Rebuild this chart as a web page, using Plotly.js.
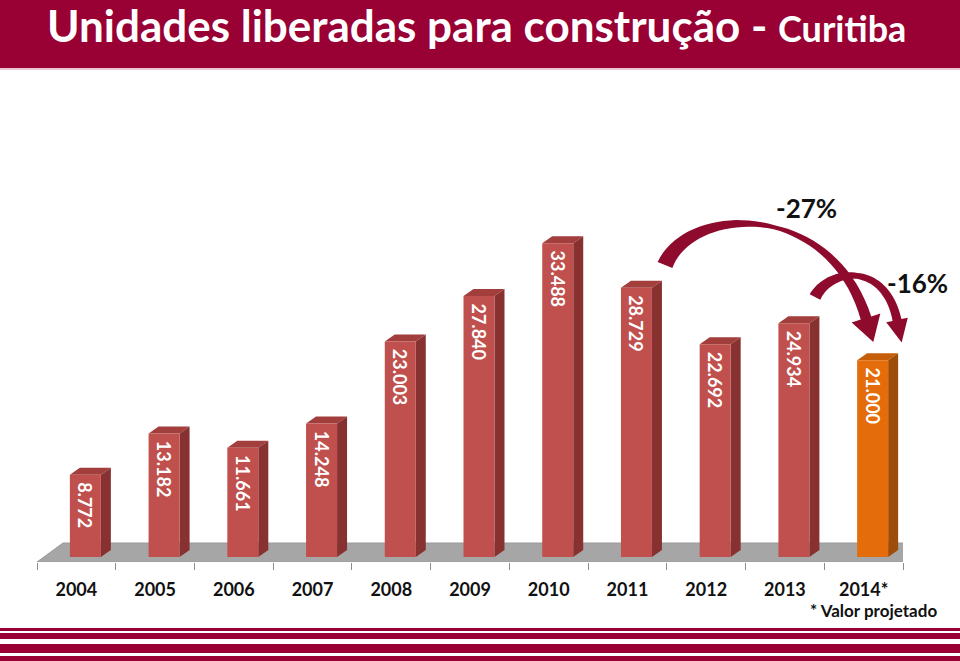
<!DOCTYPE html>
<html>
<head>
<meta charset="utf-8">
<script src="https://cdn.plot.ly/plotly-3.0.1.min.js"></script>
<style>
  html, body { margin: 0; padding: 0; background: #ffffff; }
  #chart { width: 960px; height: 661px; }
</style>
</head>
<body>
<div id="chart"></div>
<script>
// ---- data ----
const years = ['2004', '2005', '2006', '2007', '2008', '2009', '2010', '2011', '2012', '2013', '2014*'];
const units = [8772, 13182, 11661, 14248, 23003, 27840, 33488, 28729, 22692, 24934, 21000];
const projectedIndex = 10;
const changeLabels = ['-27%', '-16%'];
const titleMain = 'Unidades liberadas para construção - ';
const titleCity = 'Curitiba';
const footnote = '* Valor projetado';

// ---- layout constants (pixels) ----
const W = 960, H = 661;
const L = 37, R = 903, T = 150, B = 562;
const XR = [-0.5, 10.5];
const YR = [-534, 43430];
const pxPerCat = (R - L) / (XR[1] - XR[0]);
const unitsPerPx = (YR[1] - YR[0]) / (B - T);

// paper helpers
const PX = px => (px - L) / (R - L);
const PY = py => (B - py) / (B - T);

// bar geometry (in axis units)
const BAR_W = 31 / pxPerCat;
const BAR_OFF = 9 / pxPerCat - BAR_W / 2;
const DX = 10 / pxPerCat;
const DY = 7 * unitsPerPx;

const frontCol = years.map((_, i) => i === projectedIndex ? '#E46C0A' : '#C0504D');
const topCol = years.map((_, i) => i === projectedIndex ? '#C65D08' : '#A23E3C');
const sideCol = years.map((_, i) => i === projectedIndex ? '#9E4D08' : '#873230');

const xs = years.map((_, i) => i);

const shapes = [];
// title banner
shapes.push({type: 'rect', xref: 'paper', yref: 'paper', x0: PX(-5), x1: PX(W + 5), y0: PY(68), y1: PY(-5),
  fillcolor: '#990033', line: {width: 0}, layer: 'below'});
shapes.push({type: 'rect', xref: 'paper', yref: 'paper', x0: PX(-5), x1: PX(W + 5), y0: PY(70), y1: PY(68),
  fillcolor: '#E9C6D2', line: {width: 0}, layer: 'below'});
// footer stripes
[[628, 631], [633, 639], [644, 653], [656, 666]].forEach(s => {
  shapes.push({type: 'rect', xref: 'paper', yref: 'paper', x0: PX(-5), x1: PX(W + 5), y0: PY(s[1]), y1: PY(s[0]),
    fillcolor: '#990033', line: {width: 0}, layer: 'below'});
});
// floor
const floorBack = (557 - 543) * unitsPerPx;
const floorFront = YR[0];
const floorShift = 26 / pxPerCat;
shapes.push({type: 'path', xref: 'x', yref: 'y', layer: 'below',
  path: `M ${XR[0]},${floorFront} L ${XR[1]},${floorFront} L ${XR[1] + floorShift + 0.02},${floorBack} L ${XR[0] + floorShift},${floorBack} Z`,
  fillcolor: '#A6A6A6', line: {color: '#9A9A9A', width: 1}});
// 3D bar faces from data
units.forEach((v, i) => {
  const xl = i + BAR_OFF, xr = xl + BAR_W;
  shapes.push({type: 'path', xref: 'x', yref: 'y', layer: 'below',
    path: `M ${xl},${v} L ${xr},${v} L ${xr + DX},${v + DY} L ${xl + DX},${v + DY} Z`,
    fillcolor: topCol[i], line: {width: 0}});
  shapes.push({type: 'path', xref: 'x', yref: 'y', layer: 'below',
    path: `M ${xr},0 L ${xr},${v} L ${xr + DX},${v + DY} L ${xr + DX},${DY} Z`,
    fillcolor: sideCol[i], line: {width: 0}});
});

// curved arrows (decoration, built in pixel space -> paper)
function bez(p, t) {
  const u = 1 - t;
  return [
    u*u*u*p[0][0] + 3*u*u*t*p[1][0] + 3*u*t*t*p[2][0] + t*t*t*p[3][0],
    u*u*u*p[0][1] + 3*u*u*t*p[1][1] + 3*u*t*t*p[2][1] + t*t*t*p[3][1]
  ];
}
function bezD(p, t) {
  const u = 1 - t;
  const dx = 3*u*u*(p[1][0]-p[0][0]) + 6*u*t*(p[2][0]-p[1][0]) + 3*t*t*(p[3][0]-p[2][0]);
  const dy = 3*u*u*(p[1][1]-p[0][1]) + 6*u*t*(p[2][1]-p[1][1]) + 3*t*t*(p[3][1]-p[2][1]);
  const n = Math.hypot(dx, dy);
  return [dx / n, dy / n];
}
function widthAt(ws, t) {
  for (let k = 1; k < ws.length; k++) {
    if (t <= ws[k][0]) {
      const a = ws[k-1], b = ws[k];
      return a[1] + (b[1] - a[1]) * (t - a[0]) / (b[0] - a[0]);
    }
  }
  return ws[ws.length - 1][1];
}
function arrowPath(ctrl, ws, headW, headL) {
  const N = 40, left = [], right = [];
  for (let k = 0; k <= N; k++) {
    const t = k / N, c = bez(ctrl, t), d = bezD(ctrl, t), w = widthAt(ws, t) / 2;
    const n = [-d[1], d[0]];
    left.push([c[0] + n[0]*w, c[1] + n[1]*w]);
    right.push([c[0] - n[0]*w, c[1] - n[1]*w]);
  }
  const c = bez(ctrl, 1), d = bezD(ctrl, 1), n = [-d[1], d[0]];
  const hl = [c[0] + n[0]*headW/2, c[1] + n[1]*headW/2];
  const hr = [c[0] - n[0]*headW/2, c[1] - n[1]*headW/2];
  const tip = [c[0] + d[0]*headL, c[1] + d[1]*headL];
  const pts = left.concat([hl, tip, hr]).concat(right.slice().reverse());
  return 'M ' + pts.map(p => `${PX(p[0]).toFixed(5)},${PY(p[1]).toFixed(5)}`).join(' L ') + ' Z';
}
shapes.push({type: 'path', xref: 'paper', yref: 'paper', layer: 'above',
  path: arrowPath([[665, 265], [690, 205], [830, 200], [866, 318]], [[0, 16], [0.55, 4], [1, 11]], 30, 25),
  fillcolor: '#8E0B2E', line: {width: 0}});
shapes.push({type: 'path', xref: 'paper', yref: 'paper', layer: 'above',
  path: arrowPath([[815, 297], [830, 268], [885, 262], [897, 320]], [[0, 12], [0.5, 6], [1, 9]], 22, 23),
  fillcolor: '#8E0B2E', line: {width: 0}});

const annotations = [
  {xref: 'paper', yref: 'paper', x: PX(46), y: PY(25), xanchor: 'left', yanchor: 'middle', showarrow: false,
   borderpad: 0,
   text: titleMain + '<span style="font-size:36px">' + titleCity + '</span>',
   font: {family: 'Lato, sans-serif', size: 44, color: '#ffffff', weight: 700}},
  {xref: 'paper', yref: 'paper', x: PX(806), y: PY(208), xanchor: 'center', yanchor: 'middle', showarrow: false,
   text: changeLabels[0], font: {family: 'Lato, sans-serif', size: 26, color: '#111111', weight: 700}},
  {xref: 'paper', yref: 'paper', x: PX(917), y: PY(283), xanchor: 'center', yanchor: 'middle', showarrow: false,
   text: changeLabels[1], font: {family: 'Lato, sans-serif', size: 26, color: '#111111', weight: 700}},
  {xref: 'paper', yref: 'paper', x: PX(939), y: PY(610), xanchor: 'right', yanchor: 'middle', showarrow: false,
   text: footnote, font: {family: 'Lato, sans-serif', size: 17, color: '#111111', weight: 700}}
];

const trace = {
  type: 'bar', x: xs, y: units,
  width: BAR_W, offset: BAR_OFF,
  marker: {color: frontCol, line: {width: 0}},
  texttemplate: '\u00a0%{y:,.0f}',
  textposition: 'inside', insidetextanchor: 'end', textangle: 90,
  textfont: {family: 'Lato, sans-serif', size: 18, color: '#ffffff', weight: 700},
  constraintext: 'none',
  hoverinfo: 'skip', cliponaxis: false
};

const layout = {
  width: W, height: H,
  margin: {l: L, r: W - R, t: T, b: H - B, pad: 0},
  paper_bgcolor: '#ffffff', plot_bgcolor: 'rgba(0,0,0,0)',
  separators: ',.',
  showlegend: false,
  xaxis: {type: 'linear', range: XR, automargin: false, fixedrange: true,
    tickvals: xs, ticktext: years, ticks: '', showgrid: false, zeroline: false, showline: false,
    tickfont: {family: 'Lato, sans-serif', size: 18, color: '#111111', weight: 700},
    ticklabelstandoff: 15,
    minor: {tickvals: years.concat(['']).map((_, i) => i - 0.5), ticks: 'outside', ticklen: 7,
            tickcolor: '#8C8C8C', tickwidth: 1, showgrid: false}},
  yaxis: {range: YR, visible: false, fixedrange: true, automargin: false},
  shapes: shapes,
  annotations: annotations
};

Plotly.newPlot('chart', [trace], layout, {displayModeBar: false, staticPlot: true});
</script>
</body>
</html>
